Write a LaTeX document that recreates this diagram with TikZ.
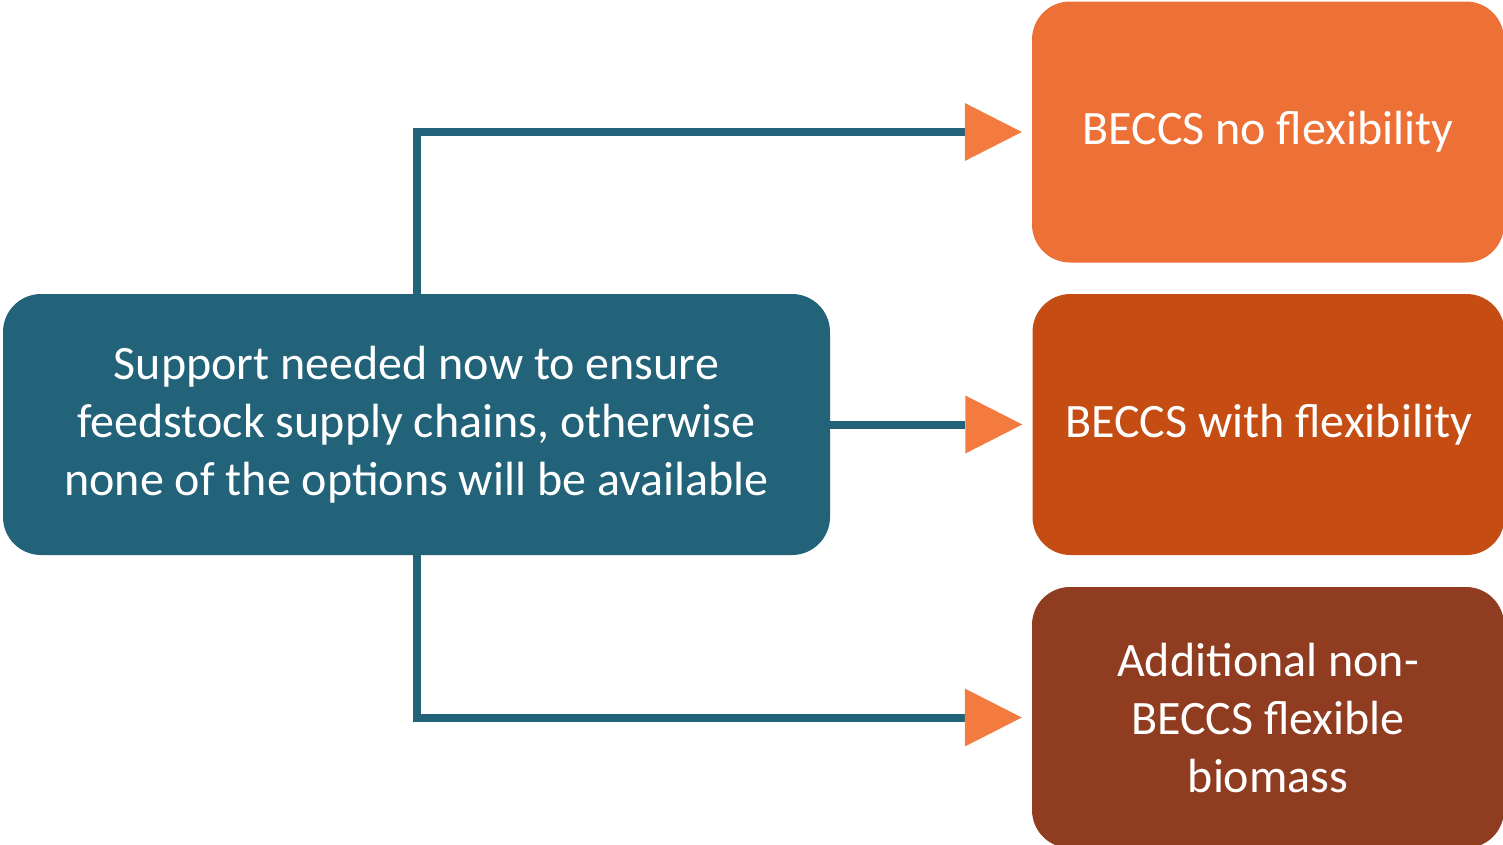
\documentclass[tikz,border=0pt]{standalone}
\usepackage{fontspec}
\setmainfont{Carlito}
\usetikzlibrary{arrows.meta}

\definecolor{supportTeal}{RGB}{35,99,121}
\definecolor{noflexOrange}{RGB}{237,113,54}
\definecolor{flexOrange}{RGB}{197,76,19}
\definecolor{nonbeccsBrown}{RGB}{143,60,32}
\definecolor{tipOrange}{RGB}{243,123,64}

\begin{document}
\begin{tikzpicture}
  [x=1pt,y=-1pt,
   optionN/.style={rectangle,rounded corners=38pt,text=white,align=center,
                   font=\fontsize{48}{58}\selectfont,
                   minimum width=472pt,minimum height=261pt,inner sep=0pt},
   supportN/.style={optionN,fill=supportTeal,minimum width=827pt},
   link/.style={draw=supportTeal,line width=8pt,shorten >=10pt,
                -{Triangle[length=57pt,width=58pt,line width=0pt,color=tipOrange,fill=tipOrange]}}]

  \useasboundingbox (0,0) rectangle (1503,844);

  \node at (416.5,424.5) [supportN] (support)
    {Support needed now to ensure\\feedstock supply chains, otherwise\\none of the options will be available};
  \node at (1268,132)    [optionN,fill=noflexOrange]  (noflex)   {BECCS no flexibility};
  \node at (1268.5,424.5)[optionN,fill=flexOrange]    (flex)     {BECCS with flexibility};
  \node at (1268,717.5)  [optionN,fill=nonbeccsBrown] (nonbeccs) {Additional non-\\BECCS flexible\\biomass};

  \draw [link] (support.north) |- (noflex.west);
  \draw [link] (support.east) -- (flex.west);
  \draw [link] (support.south) |- (nonbeccs.west);
\end{tikzpicture}
\end{document}
